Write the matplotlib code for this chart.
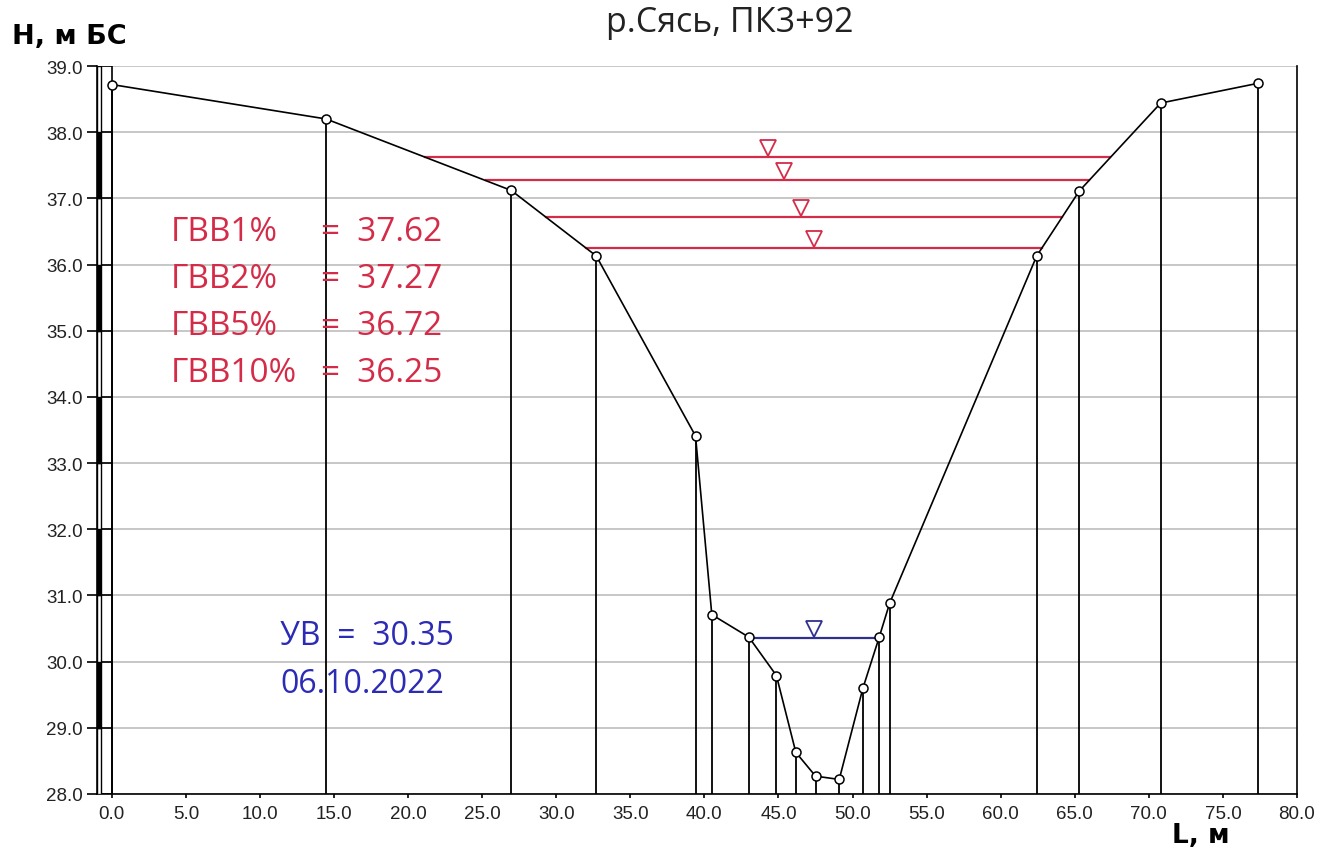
import numpy as np
import matplotlib
matplotlib.use("Agg")
import matplotlib.pyplot as plt
from matplotlib.transforms import offset_copy

# профиль поперечника: расстояние, м и отметка, м БС
dist = [0.0, 14.46, 26.96, 32.7, 39.4, 40.5, 43.0, 44.86, 46.17, 47.5,
        49.1, 50.7, 51.8, 52.5, 62.43, 65.3, 70.8, 77.4]
elev = [38.72, 38.20, 37.12, 36.13, 33.41, 30.71, 30.37, 29.79, 28.63, 28.27,
        28.22, 29.60, 30.37, 30.88, 36.13, 37.11, 38.44, 38.74]

# расчетные уровни высоких вод
gvvNames = ["ГВВ1%", "ГВВ2%", "ГВВ5%", "ГВВ10%"]
gvvLevels = [37.62, 37.27, 36.72, 36.25]
gvvMarkX = [44.3, 45.4, 46.55, 47.4]

# уровень воды на дату съемки
uvLevel = 30.35
uvDate = "06.10.2022"
uvMarkX = 47.4

xTicks = np.arange(0, 85, 5)
yTicks = np.arange(28, 40, 1)

RED = "#d42c48"
BLUE = "#2b2bb5"


def crossings(level):
    """точки пересечения горизонтали с линией профиля"""
    res = []
    for i in range(len(dist) - 1):
        y0, y1 = elev[i], elev[i + 1]
        if (y0 - level) * (y1 - level) < 0:
            t = (level - y0) / (y1 - y0)
            res.append(dist[i] + t * (dist[i + 1] - dist[i]))
    return res[0], res[-1]


fig = plt.figure(figsize=(13.2, 8.53), dpi=100)
ax = fig.add_axes([97 / 1320, 1 - 795 / 853, 1200 / 1320, 728 / 853])
ax.set_xlim(-1, 80)
ax.set_ylim(28, 39)

# сетка и шкала слева
ax.set_yticks(yTicks)
ax.set_yticklabels(["%.1f" % v for v in yTicks])
ax.set_xticks(xTicks)
ax.set_xticklabels(["%.1f" % v for v in xTicks])
ax.grid(axis="y", color="#bdbdbd", lw=1.2, zorder=0)
ax.hlines(yTicks, -1, 0, color="black", lw=1.2, zorder=2)
barColors = ["black" if k % 2 == 1 else "white" for k in yTicks[:-1]]
ax.bar(-1, 1, width=0.27, bottom=yTicks[:-1], align="edge",
       color=barColors, edgecolor="black", lw=1, zorder=3)
ax.axvline(0, color="black", lw=1.2, zorder=2)

for s in ["left", "bottom", "right"]:
    ax.spines[s].set_color("black")
    ax.spines[s].set_linewidth(1.2)
ax.spines["top"].set_visible(False)

ax.tick_params(axis="y", direction="out", length=7, pad=3, width=1.2,
               labelsize=13.5, labelcolor="#222222")
ax.tick_params(axis="x", direction="out", length=3, pad=5, width=1.2,
               labelsize=13.5, labelcolor="#222222")
for lab in ax.get_xticklabels() + ax.get_yticklabels():
    lab.set_family("Liberation Sans")

# вертикали от точек профиля вниз
ax.vlines(dist, 28, elev, color="black", lw=1.3, zorder=2)

# уровни ГВВ
markTrans = offset_copy(ax.transData, fig=fig, y=6.5, units="points")
for lev, mx in zip(gvvLevels, gvvMarkX):
    x0, x1 = crossings(lev)
    ax.plot([x0, x1], [lev, lev], color=RED, lw=1.6, zorder=3)
    ax.plot(mx, lev, marker="v", ms=11, mfc="white", mec=RED, mew=1.3,
            transform=markTrans, zorder=5)

# уровень воды
x0, x1 = crossings(uvLevel)
ax.plot([x0, x1], [uvLevel, uvLevel], color="#30308f", lw=1.6, zorder=3)
ax.plot(uvMarkX, uvLevel, marker="v", ms=11, mfc="white", mec="#30308f",
        mew=1.3, transform=markTrans, zorder=5)

# линия профиля
ax.plot(dist, elev, color="black", lw=1.2, marker="o", ms=6.5,
        mfc="white", mec="black", mew=1.1, zorder=4)

# подписи уровней
for i, (name, lev) in enumerate(zip(gvvNames, gvvLevels)):
    yb = 36.37 - i * 0.71
    ax.text(4.0, yb, name, color=RED, fontsize=24, family="Open Sans",
            va="baseline", ha="left", zorder=6)
    ax.text(14.1, yb, "=  %.2f" % lev, color=RED, fontsize=24,
            family="Open Sans", va="baseline", ha="left", zorder=6)

ax.text(11.35, 30.27, "УВ  =  %.2f" % uvLevel, color=BLUE, fontsize=23,
        family="Open Sans", va="baseline", ha="left", zorder=6)
ax.text(11.35, 29.54, uvDate, color=BLUE, fontsize=23,
        family="Open Sans", va="baseline", ha="left", zorder=6)

fig.text(729.5 / 1320, 1 - 23 / 853, "р.Сясь, ПК3+92", fontsize=24.5,
         family="Open Sans", color="#222222", ha="center", va="center")
fig.text(12 / 1320, 1 - 37 / 853, "Н, м БС", fontsize=19.5,
         family="DejaVu Sans", fontweight="bold", ha="left", va="center")
fig.text(1172 / 1320, 1 - 836 / 853, "L, м", fontsize=19,
         family="DejaVu Sans", fontweight="bold", ha="left", va="center")

fig.savefig("out.png", dpi=100, facecolor="white")
